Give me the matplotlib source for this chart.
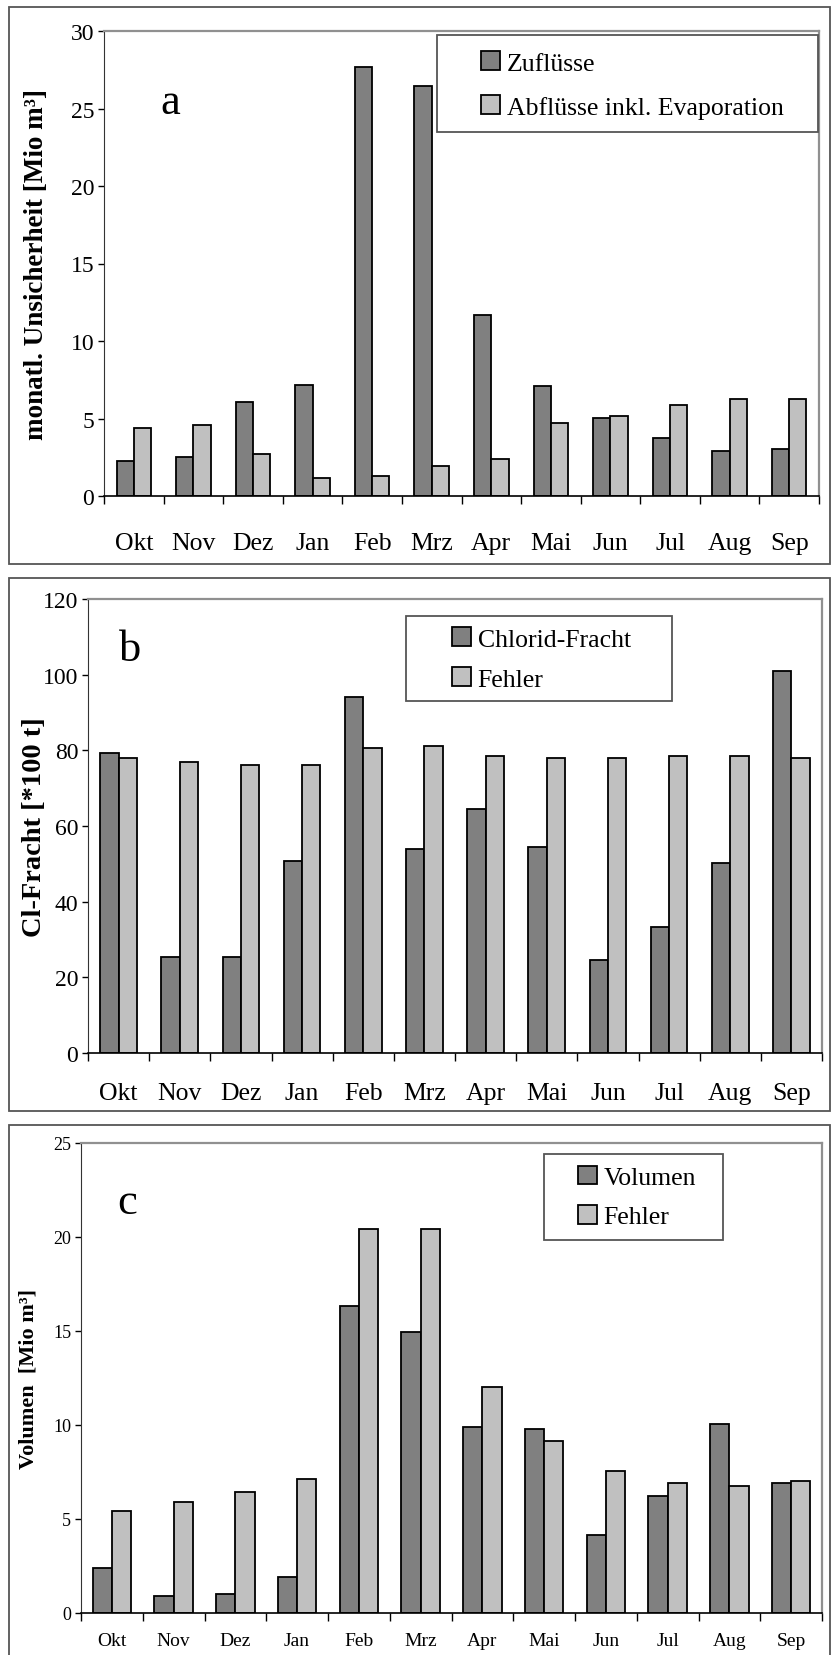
import matplotlib
matplotlib.use("Agg")
import matplotlib.pyplot as plt
from matplotlib.patches import Rectangle
import numpy as np

plt.rcParams['font.family'] = ['Liberation Serif', 'DejaVu Serif']

# Data
months = ['Okt', 'Nov', 'Dez', 'Jan', 'Feb', 'Mrz', 'Apr', 'Mai', 'Jun', 'Jul', 'Aug', 'Sep']

zufluesse = [2.26, 2.49, 6.06, 7.16, 27.65, 26.46, 11.65, 7.07, 5.04, 3.71, 2.92, 3.04]
abfluesse = [4.37, 4.60, 2.72, 1.15, 1.27, 1.91, 2.37, 4.72, 5.18, 5.85, 6.29, 6.29]

chlorid = [79.3, 25.4, 25.4, 50.7, 94.0, 54.0, 64.6, 54.5, 24.5, 33.3, 50.2, 100.9]
chlorid_fehler = [77.9, 76.9, 76.1, 76.1, 80.6, 81.2, 78.4, 77.9, 77.9, 78.4, 78.4, 77.9]

volumen = [2.39, 0.91, 1.02, 1.93, 16.33, 14.94, 9.89, 9.80, 4.15, 6.20, 10.04, 6.93]
volumen_fehler = [5.44, 5.91, 6.46, 7.11, 20.4, 20.4, 12.02, 9.15, 7.54, 6.93, 6.74, 7.02]

DARK = '#808080'
LIGHT = '#c0c0c0'
W, H = 834, 1656

fig = plt.figure(figsize=(W / 100, H / 100), dpi=100)


def px_axes(left, top, right, bottom):
    return fig.add_axes([left / W, 1 - bottom / H, (right - left) / W, (bottom - top) / H])


def frame(left, top, right, bottom):
    fig.patches.append(Rectangle((left / W, 1 - bottom / H), (right - left) / W, (bottom - top) / H,
                                 transform=fig.transFigure, fill=False, edgecolor='#555555', lw=1.3))


def panel(box, dark, light, ymax, ystep, ylabel, labels, tick_fs, month_fs, month_pad, ylab_x, ylab_fs,
          letter, letter_xy, leg_box, leg_xy, leg_fs, leg_gap, width):
    ax = px_axes(*box)
    x = np.arange(len(months))
    b1 = ax.bar(x - width / 2, dark, width, color=DARK, edgecolor='black', lw=1.3)
    b2 = ax.bar(x + width / 2, light, width, color=LIGHT, edgecolor='black', lw=1.3)
    ax.set_xlim(-0.5, 11.5)
    ax.set_ylim(0, ymax)
    ax.set_yticks(np.arange(0, ymax + 1, ystep))
    ax.tick_params(axis='y', direction='out', length=4, width=1, labelsize=tick_fs, pad=3)
    ax.set_xticks(np.arange(-0.5, 12, 1))
    ax.set_xticklabels([])
    ax.tick_params(axis='x', which='major', direction='out', length=6, width=1)
    ax.set_xticks(x, minor=True)
    ax.set_xticklabels(months, minor=True, fontsize=month_fs)
    ax.tick_params(axis='x', which='minor', length=0, pad=month_pad)
    for s in ['top', 'right']:
        ax.spines[s].set_color('#909090')
        ax.spines[s].set_linewidth(1.6)
    ax.spines['left'].set_color('#333333')
    ax.spines['bottom'].set_color('black')
    ax.spines['bottom'].set_linewidth(1.2)

    cy = (box[1] + box[3]) / 2
    fig.text(ylab_x / W, 1 - cy / H, ylabel, rotation=90, fontsize=ylab_fs, fontweight='bold',
             ha='center', va='center')
    fig.text(letter_xy[0] / W, 1 - letter_xy[1] / H, letter, fontsize=32, ha='center', va='center')

    frame(*leg_box)
    fig.legend([b1, b2], labels, loc='center left',
               bbox_to_anchor=(leg_xy[0] / W, 1 - leg_xy[1] / H), bbox_transform=fig.transFigure,
               frameon=False, fontsize=leg_fs, borderpad=0, borderaxespad=0,
               handlelength=0.75, handleheight=0.75, handletextpad=0.25, labelspacing=leg_gap)
    return ax


# outer frames
frame(9, 8, 830, 565)
frame(9, 579, 830, 1112)
frame(9, 1126, 830, 1670)

panel((104, 32, 819, 497), zufluesse, abfluesse, 30, 5, 'monatl. Unsicherheit [Mio m³]',
      ['Zuflüsse', 'Abflüsse inkl. Evaporation'], 17, 18.5, 26, 37, 19.5,
      'a', (170, 103), (437, 36, 818, 133), (481, 86), 18.5, 0.8, 0.29)

panel((88, 600, 822, 1054), chlorid, chlorid_fehler, 120, 20, 'Cl-Fracht [*100 t]',
      ['Chlorid-Fracht', 'Fehler'], 17, 18.5, 21, 35, 20.5,
      'b', (130, 650), (406, 617, 672, 702), (452, 660), 18.5, 0.65, 0.30)

panel((81, 1144, 822, 1614), volumen, volumen_fehler, 25, 5, 'Volumen  [Mio m³]',
      ['Volumen', 'Fehler'], 13, 14, 14, 29, 16,
      'c', (127, 1203), (544, 1155, 723, 1241), (578, 1198), 18.5, 0.62, 0.31)

fig.savefig('out.png', dpi=100)
